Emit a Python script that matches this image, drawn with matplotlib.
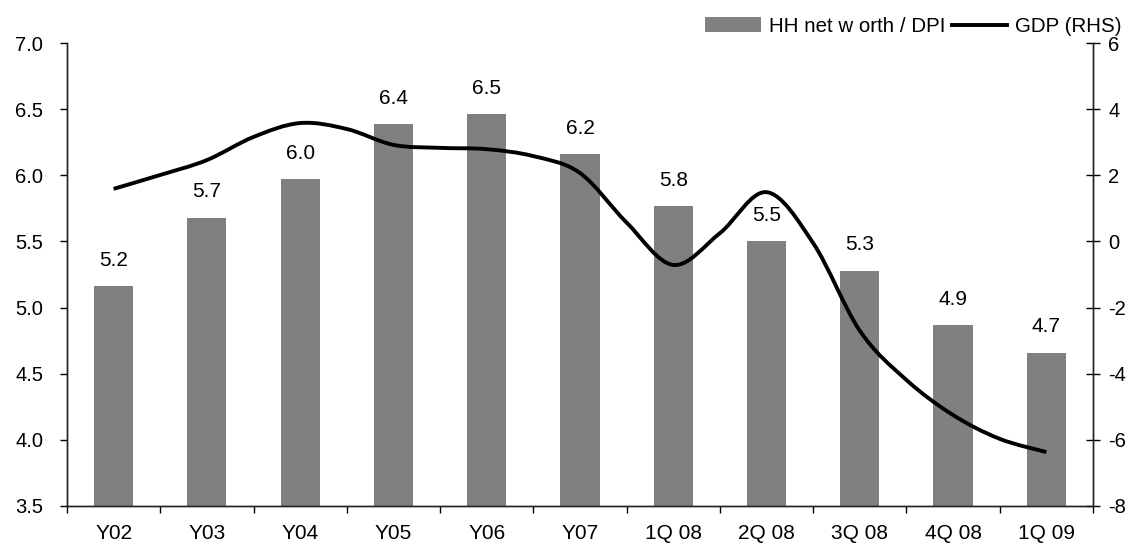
import matplotlib
matplotlib.use("Agg")
import matplotlib.pyplot as plt
from matplotlib.path import Path
from matplotlib.patches import PathPatch, Patch
from matplotlib.lines import Line2D
import numpy as np

plt.rcParams['font.family'] = ['Liberation Sans', 'DejaVu Sans']

periods = ["Y02", "Y03", "Y04", "Y05", "Y06", "Y07",
           "1Q 08", "2Q 08", "3Q 08", "4Q 08", "1Q 09"]
net_worth_dpi = [5.16, 5.68, 5.97, 6.39, 6.46, 6.16, 5.77, 5.50, 5.28, 4.87, 4.66]

# GDP (RHS) sampled every half period
gdp_x = [0.0, 0.5, 1.0, 1.5, 2.0, 2.5, 3.0, 3.5, 4.0, 4.5, 5.0,
         5.5, 6.0, 6.5, 7.0, 7.5, 8.0, 8.5, 9.0, 9.5, 10.0]
gdp = [1.59, 2.01, 2.46, 3.16, 3.58, 3.40, 2.92, 2.83, 2.79, 2.58, 2.07,
       0.57, -0.71, 0.25, 1.49, -0.05, -2.70, -4.19, -5.25, -5.97, -6.37]

left_ticks = [3.5, 4.0, 4.5, 5.0, 5.5, 6.0, 6.5, 7.0]
right_ticks = [-8, -6, -4, -2, 0, 2, 4, 6]


def smooth_path(xs, ys):
    # Catmull-Rom segments expressed as cubic Bezier curves
    pts = np.column_stack([xs, ys])
    n = len(pts)
    verts = [pts[0]]
    codes = [Path.MOVETO]
    for i in range(n - 1):
        p0 = pts[max(i - 1, 0)]
        p1 = pts[i]
        p2 = pts[i + 1]
        p3 = pts[min(i + 2, n - 1)]
        c1 = p1 + (p2 - p0) / 6.0
        c2 = p2 - (p3 - p1) / 6.0
        verts += [c1, c2, p2]
        codes += [Path.CURVE4] * 3
    return Path(verts, codes)


fig = plt.figure(figsize=(11.39, 5.46), dpi=100)
fig.subplots_adjust(left=0.0588, right=0.9596, top=0.9212, bottom=0.0733)
ax = fig.add_subplot(111)
ax2 = ax.twinx()

x = np.arange(len(periods))
ax.bar(x, net_worth_dpi, width=0.42, color="#808080", zorder=2)
for xi, v in zip(x, net_worth_dpi):
    ax.annotate(f"{v:.1f}", (xi, v), xytext=(0, 14.5), textcoords="offset points",
                ha="center", va="baseline", fontsize=15)

ax.set_xlim(-0.5, len(periods) - 0.5)
ax.set_ylim(3.5, 7.0)
ax.set_yticks(left_ticks)
ax.set_yticklabels([f"{t:.1f}" for t in left_ticks], fontsize=14.5)
ax.set_xticks(x)
ax.set_xticklabels(periods, fontsize=15)
ax.tick_params(axis="x", which="major", length=0, pad=13)
ax.set_xticks(np.arange(-0.5, len(periods), 1.0), minor=True)
ax.tick_params(axis="x", which="minor", length=5, direction="out", width=1)
ax.tick_params(axis="y", length=5, direction="out", width=1, pad=12)

ax2.set_ylim(-8, 6)
ax2.set_yticks(right_ticks)
ax2.set_yticklabels([str(t) for t in right_ticks], fontsize=14.5)
ax2.tick_params(axis="y", length=10, direction="inout", width=1, pad=6)
ax2.add_patch(PathPatch(smooth_path(gdp_x, gdp), facecolor="none",
                        edgecolor="black", lw=2.8, capstyle="butt", zorder=3))

for a in (ax, ax2):
    a.spines["top"].set_visible(False)
    for s in ("left", "right", "bottom"):
        a.spines[s].set_color("#222222")
        a.spines[s].set_linewidth(1)

handles = [Patch(facecolor="#808080", edgecolor="none"),
           Line2D([], [], color="black", lw=2.8)]
fig.legend(handles, ["HH net w orth / DPI", "GDP (RHS)"], ncol=2, frameon=False,
           loc="center right", bbox_to_anchor=(0.994, 0.952), fontsize=14.8,
           handlelength=2.7, handletextpad=0.4, columnspacing=0.3, borderpad=0)

fig.savefig("out.png", dpi=100)
